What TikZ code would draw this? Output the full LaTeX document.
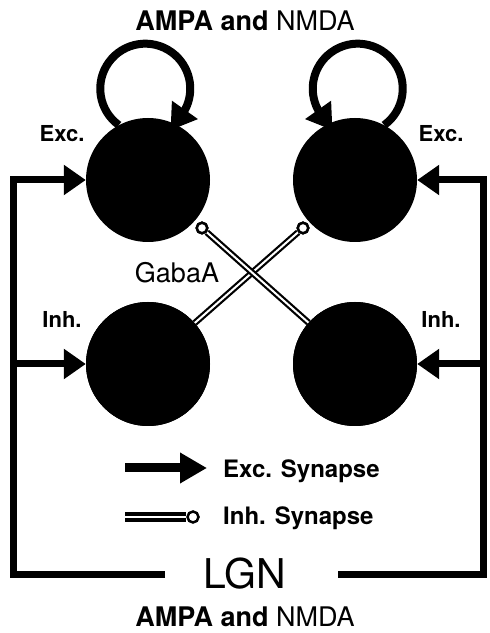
\documentclass[tikz,border=0pt]{standalone}
\usepackage{fontspec}
\setmainfont{TeX Gyre Heros}
\usetikzlibrary{arrows.meta}
\begin{document}
\begin{tikzpicture}[x=1pt,y=1pt,
 neuron/.style={circle,fill=black,draw=none,minimum size=124pt,inner sep=0pt},
 framel/.style={line width=7pt,line join=miter},
 exctip/.style={-{Triangle[length=22pt,width=29pt]}},
 looparrow/.style={line width=8pt,-{Triangle[length=25pt,width=30pt]}},
 knob/.style={circle,draw=black,fill=white,line width=2.5pt,minimum size=10.5pt,inner sep=0pt},
 inhline/.style={draw=black,double=white,double distance=2pt,line width=2.2pt},
 txt/.style={inner sep=0pt,anchor=base},
 small/.style={font=\bfseries\fontsize{22}{24}\selectfont},
 legend/.style={font=\bfseries\fontsize{24}{26}\selectfont,inner sep=0pt,anchor=base west}
]
\useasboundingbox (0,0) rectangle (490,633);

% knobs of inhibitory synapses
\node[knob] (k1) at (202,405) {};
\node[knob] (k2) at (303,405) {};

% neurons
\node[neuron] (e1) at (148,453) {};
\node[neuron] (e2) at (355,453) {};
\node[neuron] (i1) at (148,269) {};
\node[neuron] (i2) at (355,269) {};

% inhibitory cross connections
\draw[inhline] (i1) -- (k2);
\draw[inhline] (i2) -- (k1);
\node[neuron] at (i1) {};
\node[neuron] at (i2) {};
\node[knob] at (k1) {};
\node[knob] at (k2) {};

% recurrent loops
\draw[looparrow] (e1.118) arc[start angle=234, end angle=-28, radius=45] -- ++(-14.5,-20.5);
\draw[looparrow] (e2.62) arc[start angle=-54, end angle=208, radius=45] -- ++(14.5,-20.5);

% LGN frame
\coordinate (fl) at (165,58);
\coordinate (fr) at (338,58);
\coordinate (bl) at (13,58);
\coordinate (br) at (483,58);
\coordinate (tl) at (13,453);
\coordinate (tr) at (483,453);
\coordinate (ml) at (13,269);
\coordinate (mr) at (483,269);
\draw[framel,exctip] (fl) -- (bl) -- (tl) -- (e1.west);
\draw[framel,exctip] (ml) -- (i1.west);
\draw[framel,exctip] (fr) -- (br) -- (tr) -- (e2.east);
\draw[framel,exctip] (mr) -- (i2.east);

% labels
\node[txt,font=\fontsize{27}{29}\selectfont] (top) at (245,602) {\textbf{AMPA and} NMDA};
\node[txt,small] (exl) at (62,491) {Exc.};
\node[txt,small] (exr) at (441,491) {Exc.};
\node[txt,small] (inl) at (62,305) {Inh.};
\node[txt,small] (inr) at (441,305) {Inh.};
\node[txt,font=\fontsize{27}{29}\selectfont] (gaba) at (177,350) {GabaA};

% legend
\coordinate (la1) at (125,165);
\coordinate (la2) at (207,165);
\draw[line width=9pt,-{Triangle[length=27pt,width=29pt]}] (la1) -- (la2);
\coordinate (li1) at (125,116);
\node[knob,minimum size=11pt] (lk) at (193,116) {};
\draw[draw=black,double=white,double distance=2.5pt,line width=4pt] (li1) -- (lk);
\node[legend] (lex) at (223,155) {Exc. Synapse};
\node[legend] (lin) at (223,108) {Inh. Synapse};

% LGN
\node[txt,font=\fontsize{41}{43}\selectfont] (lgn) at (245,45) {LGN};
\node[txt,font=\fontsize{27}{29}\selectfont] (bot) at (245,6) {\textbf{AMPA and} NMDA};
\end{tikzpicture}
\end{document}
